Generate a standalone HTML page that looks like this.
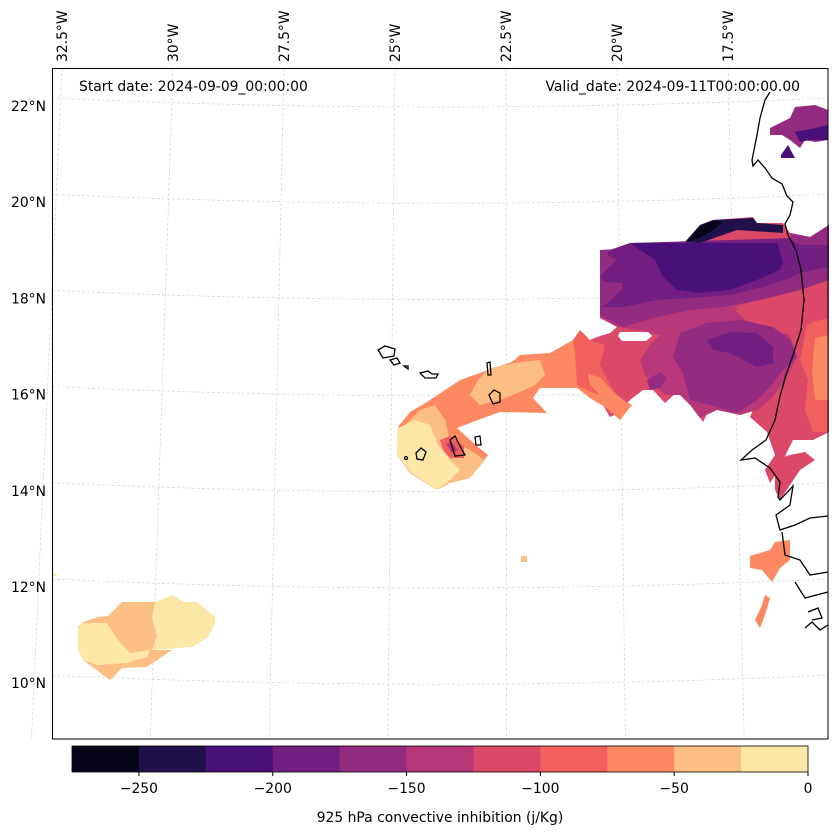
<!DOCTYPE html>
<html><head><meta charset="utf-8"><style>
html,body{margin:0;padding:0;background:#fff;}
body{width:837px;height:836px;overflow:hidden;font-family:"DejaVu Sans","Liberation Sans",sans-serif;}
svg text{font-family:"DejaVu Sans","Liberation Sans",sans-serif;font-size:13.9px;fill:#000;}
</style></head><body>
<svg id="fig" width="837" height="836" viewBox="0 0 837 836" xmlns="http://www.w3.org/2000/svg">
<g id="grid" stroke="#d4d4d4" stroke-width="0.7" stroke-dasharray="3,2" fill="none"></g>
<g id="fills">
  <polygon fill="#dc4868" points="590,340 597,337 610,333 617,327 608,317 600,315 600,308 608,303 623,288 622,283 605,282 600,277 608,268 617,260 607,255 610,250 630,243 685,242 700,225 713,220 753,217 757,223 783,223 790,233 810,237 829,225 829,432 813,440 793,440 787,452 780,468 770,483 765,470 775,455 767,432 750,417 760,392 750,383 738,397 727,387 713,402 703,422 690,403 677,392 665,403 653,390 643,390 630,400 620,412 610,417 600,400 590,398 580,390 580,345"/>
  <polygon fill="#f1605d" points="580,345 590,340 605,345 600,365 610,385 620,398 612,410 600,400 590,398 580,390"/>
  <polygon fill="#f1605d" points="807,325 829,315 829,432 813,432 805,410 808,380 800,360"/>
  <polygon fill="#fc8961" points="815,338 829,335 829,400 815,400 812,370"/>
  <polygon fill="#fc8961" points="605,400 617,395 630,405 620,417 610,412"/>
  <polygon fill="#b73779" points="600,250 829,240 829,285 800,292 760,305 735,310 745,320 790,335 797,357 785,380 770,400 757,410 740,415 717,410 700,418 690,405 680,395 665,395 655,385 645,375 640,360 650,345 660,335 640,330 617,327 600,318"/>
  <polygon fill="#dc4868" points="735,307 800,285 829,275 829,318 808,323 800,336 790,334 770,320 745,314"/>
  <polygon fill="#932b80" points="600,250 829,240 829,280 800,290 760,300 723,307 690,310 657,317 623,327 600,315"/>
  <polygon fill="#932b80" points="680,333 707,323 740,320 773,327 790,340 797,357 783,370 770,387 757,400 737,413 717,407 690,400 683,373 673,357"/>
  <polygon fill="#932b80" points="647,380 660,372 667,378 660,388 650,390"/>
  <polygon fill="#721f81" points="707,340 730,332 757,333 773,347 773,363 757,367 730,353 713,350"/>
  <polygon fill="#721f81" points="607,255 610,250 630,243 829,237 829,267 803,272 790,278 763,287 730,295 690,298 657,300 623,307 605,307 600,308 608,303 623,288 622,283 605,282 600,277 608,268 617,260"/>
  <polygon fill="#4a1079" points="630,243 777,243 783,262 780,270 757,280 730,290 700,293 677,290 663,277 655,260 640,250"/>
  <polygon fill="#932b80" points="790,233 810,237 829,225 829,245 800,245 792,240"/>
  <polygon fill="#20114b" points="685,242 700,225 713,220 753,218 757,223 783,225 783,233 737,230 717,237 700,243"/>
  <polygon fill="#060518" points="687,242 700,226 713,221 723,222 713,230 700,238"/>
  <polygon fill="#ffffff" points="620,332 648,332 652,336 646,341 622,341 618,336"/>
  <polygon fill="#932b80" points="770,128 790,118 795,107 815,105 828,110 828,140 815,142 805,140 800,148 790,140 782,135 770,135"/>
  <polygon fill="#4a1079" points="795,132 815,128 828,125 828,140 810,140 800,142"/>
  <polygon fill="#4a1079" points="781,155 788,145 795,158 781,158"/>
  <polygon fill="#fc8961" points="580,330 580,372 600,377 618,397 632,405 620,420 605,407 593,400 577,388 540,388 533,398 547,413 500,412 478,420 457,428 478,447 488,455 470,478 450,483 437,490 410,473 397,455 398,427 410,412 427,402 442,392 460,380 480,373 512,362 520,355 550,353 573,340"/>
  <polygon fill="#f1605d" points="573,340 580,330 590,340 585,360 590,385 600,395 590,392 577,385 575,352"/>
  <polygon fill="#fdbe84" points="490,368 520,362 540,360 545,375 535,385 520,392 500,400 480,405 470,395 478,380"/>
  <polygon fill="#fdbe84" points="400,430 420,410 435,405 445,420 450,440 470,450 485,460 470,478 450,483 437,490 410,473 397,455"/>
  <polygon fill="#fce7a6" points="398,428 415,420 430,425 438,445 450,460 460,470 450,480 437,490 412,473 397,455"/>
  <polygon fill="#f1605d" points="440,440 450,436 464,446 464,458 450,458 443,450"/>
  <polygon fill="#b73779" points="446,444 452,442 458,450 452,453"/>
  <polygon fill="#fdbe84" points="122,602 155,602 157,637 152,650 172,650 147,667 122,668 110,680 83,660 78,650 78,627 83,622 98,617 108,616"/>
  <polygon fill="#fce7a6" points="155,602 173,595 183,602 197,602 215,617 215,623 208,637 192,647 152,650 157,637 152,617"/>
  <polygon fill="#fce7a6" points="83,623 107,623 118,640 130,653 150,650 147,657 127,663 97,665 83,660 78,650 78,628"/>
  <polygon fill="#fce7a6" points="52,572 58,576 52,576"/>
  <rect x="521" y="556" width="6" height="6" fill="#fdbe84"/>
  <polygon fill="#fc8961" points="750,556 770,550 775,542 790,540 790,560 780,568 772,582 762,570 750,568"/>
  <polygon fill="#fc8961" points="755,620 762,605 765,595 770,598 765,615 760,628"/>
  <polygon fill="#dc4868" points="775,460 790,455 805,452 815,460 800,470 790,485 780,500 775,490"/>
</g>
<g id="coast" fill="none" stroke="#000" stroke-width="1.3">
  <polyline points="770,92 765,100 760,118 757,135 752,160 753,166 758,160 765,168 772,178 782,184 787,196 793,202 790,215 785,224 788,235 796,250 801,270 804,300 801,330 793,355 786,375 780,396 775,420 766,440 752,450 741,460 755,458 770,468 780,482 778,497 780,500 793,486 790,505 776,515 780,530 795,525 810,518 828,516"/>
  <polyline points="782,532 785,555 800,560 810,575 828,572"/>
  <polyline points="795,582 805,598 828,592"/>
  <polyline points="808,612 818,608 822,618 812,620"/>
  <polyline points="805,628 812,622 820,630 828,625"/>
  <polygon points="378,350 385,346 395,349 394,356 383,358"/>
  <polygon points="390,360 397,358 400,363 394,365"/>
  <polygon points="404,366 408,366 408,369"/>
  <polygon points="420,373 428,371 432,374 438,374 436,378 425,378"/>
  <polygon points="487,363 490,362 491,375 488,375"/>
  <polygon points="489,395 494,390 500,393 500,402 493,404"/>
  <polygon points="450,440 455,436 462,450 465,455 455,456"/>
  <polygon points="475,437 480,436 481,445 476,445"/>
  <polygon points="416,453 421,448 426,452 423,460 417,459"/>
  <circle cx="406" cy="458" r="1.5"/>
</g>
<rect x="52.5" y="68.5" width="775.5" height="670.5" fill="none" stroke="#000" stroke-width="1"/>
<text x="79" y="91">Start date: 2024-09-09_00:00:00</text>
<text x="800" y="91" text-anchor="end">Valid_date: 2024-09-11T00:00:00.00</text>
<g id="latlabels"></g>
<g id="lonlabels"></g>
<g id="cbar"></g>
<text x="440" y="822" text-anchor="middle">925 hPa convective inhibition (j/Kg)</text>
</svg>
<script>
const levels = [-275,-250,-225,-200,-175,-150,-125,-100,-75,-50,-25,0];
const binColors = ["#060518","#20114b","#4a1079","#721f81","#932b80","#b73779","#dc4868","#f1605d","#fc8961","#fdbe84","#fce7a6"];
const cbTicks = [-250,-200,-150,-100,-50,0];
const latVals = [22,20,18,16,14,12,10];
const lonVals = [32.5,30,27.5,25,22.5,20,17.5];
const NS="http://www.w3.org/2000/svg";
const cx = v => 72 + (v + 275) / 275 * 736;
const latY = v => 106 + (22 - v) * 48.1;
const lonX = v => 62 + (32.5 - v) * 44.4;
function mk(tag, attrs, parent){const e=document.createElementNS(NS,tag);for(const k in attrs)e.setAttribute(k,attrs[k]);parent.appendChild(e);return e;}
const cb=document.getElementById('cbar');
for(let i=0;i<binColors.length;i++){
  const r=mk('rect',{x:cx(levels[i]),y:746,width:cx(levels[i+1])-cx(levels[i])+0.5,height:26,fill:binColors[i]},cb);
  
  
}
const fr=mk('rect',{x:72,y:746,width:736,height:26,fill:'none',stroke:'#000','stroke-width':0.8},cb);


cbTicks.forEach(t=>{
  const l=mk('line',{x1:cx(t),x2:cx(t),y1:772,y2:776,stroke:'#000'},cb);
  
  
  const tx=mk('text',{x:cx(t),y:793,'text-anchor':'middle'},cb);
  tx.textContent=(t<0?'\u2212'+(-t):String(t));
  
  
});
const grid=document.getElementById('grid');
latVals.forEach(v=>{
  const y=latY(v);
  const p=mk('path',{d:`M52,${y-8} Q440,${y+10} 828,${y-8}`},grid);
  
  
  const t=mk('text',{x:46,y:y+5,'text-anchor':'end'},document.getElementById('latlabels'));
  t.textContent=v+'\u00b0N';
  
  
});
lonVals.forEach(v=>{
  const x=lonX(v);
  const xb=x+(x-440)*0.07+(-4);
  const p=mk('line',{x1:x,y1:68,x2:xb,y2:739},grid);
  
  
  const t=mk('text',{x:0,y:0,transform:`translate(${x+5},62) rotate(-90)`},document.getElementById('lonlabels'));
  t.textContent=v+'\u00b0W';
  
  
});
</script>
</body></html>
